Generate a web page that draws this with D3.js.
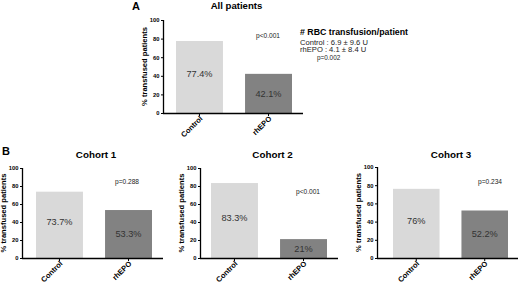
<!DOCTYPE html>
<html><head><meta charset="utf-8">
<script src="https://cdn.jsdelivr.net/npm/d3@7"></script>
<style>
html,body{margin:0;padding:0;background:#fff;}
svg{display:block;font-family:"Liberation Sans",Arial,sans-serif;}
</style></head>
<body>
<svg id="chart" width="520" height="285"></svg>
<script>
// ---- data ----
const panelTitles = ["All patients", "Cohort 1", "Cohort 2", "Cohort 3"];
const categories = ["Control", "rhEPO"];
const controlValues = [77.4, 73.7, 83.3, 76];
const rhepoValues = [42.1, 53.3, 21, 52.2];
const pLabels = ["p<0.001", "p=0.288", "p<0.001", "p=0.234"];
const yTicks = [0, 20, 40, 60, 80, 100];
const yAxisTitle = "% transfused patients";
const rbcTitle = "# RBC transfusion/patient";
const rbcLines = ["Control : 6.9 \u00b1 9.6 U", "rhEPO : 4.1 \u00b1 8.4 U"];
const rbcP = "p=0.002";

// ---- layout ----
const layout = [
  {ax: 164, axEnd: 303, b0: 176, b1: 292, yTop: 20, yBot: 113, titleY: 9, titleSize: 9.6, pX: 268, pY: 38},
  {ax: 23,  axEnd: 163, b0: 36,  b1: 152, yTop: 168, yBot: 258, titleY: 158, titleSize: 9.8, pX: 127, pY: 184},
  {ax: 201, axEnd: 338, b0: 211, b1: 327, yTop: 168, yBot: 258, titleY: 158, titleSize: 9.8, pX: 308, pY: 194},
  {ax: 378, axEnd: 518, b0: 393, b1: 508, yTop: 167, yBot: 258, titleY: 158, titleSize: 9.8, pX: 490, pY: 184}
];
const colors = {Control: "#d9d9d9", rhEPO: "#828282"};

const svg = d3.select("#chart");

layout.forEach((L, i) => {
  const g = svg.append("g");
  const vals = [controlValues[i], rhepoValues[i]];
  const x = d3.scaleBand().domain(categories).range([L.b0, L.b1]).paddingInner(0.32).paddingOuter(0);
  const y = d3.scaleLinear().domain([0, 100]).range([L.yBot, L.yTop]);

  // bars
  g.selectAll("rect.bar").data(categories).enter().append("rect")
    .attr("x", d => x(d)).attr("width", x.bandwidth())
    .attr("y", (d, j) => y(vals[j])).attr("height", (d, j) => y(0) - y(vals[j]))
    .attr("fill", d => colors[d]);

  // value labels
  g.selectAll("text.val").data(categories).enter().append("text")
    .attr("x", d => x(d) + x.bandwidth() / 2)
    .attr("y", (d, j) => y(j === 0 ? vals[j] / 2 + 3 : vals[j] / 2))
    .attr("dy", "0.35em")
    .attr("text-anchor", "middle")
    .attr("font-size", 9.2).attr("fill", "#333")
    .text((d, j) => vals[j] + "%");

  // y axis
  const yAxis = d3.axisLeft(y).tickValues(yTicks).tickSize(3).tickPadding(1.5);
  const ya = g.append("g").attr("transform", `translate(${L.ax},0)`).call(yAxis);
  ya.select(".domain").attr("stroke", "#000").attr("stroke-width", 1.3).attr("d", `M-0.5,${L.yTop}V${L.yBot}`);
  ya.selectAll(".tick line").attr("stroke", "#000").attr("stroke-width", 1);
  ya.selectAll(".tick text").attr("font-size", 5.8).attr("font-weight", "bold").attr("fill", "#000")
    .attr("font-family", "Liberation Sans, Arial, sans-serif");

  // x axis
  const xAxis = d3.axisBottom(x).tickSize(3).tickSizeOuter(0).tickPadding(2);
  const xa = g.append("g").attr("transform", `translate(0,${L.yBot})`).call(xAxis);
  xa.select(".domain").attr("stroke", "#000").attr("stroke-width", 1.3).attr("d", `M${L.ax - 1},0.5H${L.axEnd}`);
  xa.selectAll(".tick line").attr("stroke", "#000");
  xa.selectAll(".tick text").attr("font-size", 7.5).attr("font-weight", "bold").attr("fill", "#000")
    .attr("font-family", "Liberation Sans, Arial, sans-serif")
    .attr("text-anchor", "end").attr("dy", 0).attr("y", 0)
    .attr("transform", "translate(3.5,6) rotate(-45)");

  // y axis title
  g.append("text")
    .attr("transform", `translate(${L.ax - 17},${(L.yTop + L.yBot) / 2}) rotate(-90)`)
    .attr("text-anchor", "middle").attr("font-size", 7.6).attr("font-weight", "bold")
    .text(yAxisTitle);

  // panel title
  g.append("text").attr("x", (L.ax + L.axEnd) / 2 + 3).attr("y", L.titleY)
    .attr("text-anchor", "middle").attr("font-size", L.titleSize).attr("font-weight", "bold")
    .text(panelTitles[i]);

  // p label
  g.append("text").attr("x", L.pX).attr("y", L.pY).attr("text-anchor", "middle")
    .attr("font-size", 6.6).attr("fill", "#222").text(pLabels[i]);
});

// panel letters
svg.append("text").attr("x", 132).attr("y", 10).attr("font-size", 11).attr("font-weight", "bold").text("A");
svg.append("text").attr("x", 2).attr("y", 155).attr("font-size", 11).attr("font-weight", "bold").text("B");

// RBC annotation
svg.append("text").attr("x", 300).attr("y", 35).attr("font-size", 8.8).attr("font-weight", "bold").text(rbcTitle);
rbcLines.forEach((t, k) => {
  svg.append("text").attr("x", 300).attr("y", 44.5 + k * 7.5).attr("font-size", 7.6).attr("fill", "#222").text(t);
});
svg.append("text").attr("x", 317).attr("y", 60).attr("font-size", 6.4).attr("fill", "#222").text(rbcP);
</script>
</body></html>
